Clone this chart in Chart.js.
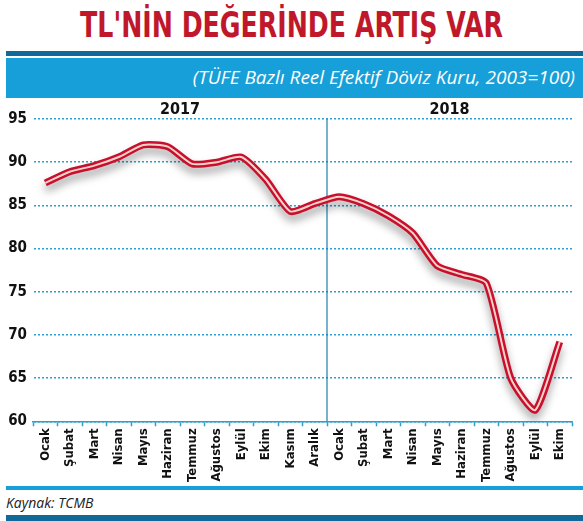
<!DOCTYPE html>
<html>
<head>
<meta charset="utf-8">
<script src="https://cdn.jsdelivr.net/npm/chart.js@4"></script>
<style>
  body { margin: 0; width: 583px; height: 521px; background: #fff; position: relative; overflow: hidden; font-family: 'DejaVu Sans Condensed', sans-serif; }
  #title { position: absolute; top: 4px; left: 0; width: 583px; text-align: center; white-space: nowrap; color: #c0172b; font-weight: bold; font-size: 36px; font-family: 'DejaVu Sans Condensed', sans-serif; transform: scaleX(0.78); transform-origin: 50% 0; }
  #bar1 { position: absolute; top: 51px; left: 6px; width: 577px; height: 5px; background: #0f6a9a; }
  #band { position: absolute; top: 58px; left: 6px; width: 577px; height: 40px; background: #169fd8; }
  #sub { position: absolute; right: 8px; top: 6px; color: #fff; font-style: italic; font-size: 19px; font-family: 'Open Sans', sans-serif; }
  #wrap { position: absolute; top: 98px; left: 0; width: 583px; height: 386px; }
  #bar2 { position: absolute; top: 486px; left: 6px; width: 577px; height: 4px; background: #169fd8; }
  #src { position: absolute; top: 493px; left: 6px; font-style: italic; font-size: 14px; font-family: 'Open Sans', sans-serif; color: #222; }
  #bar3 { position: absolute; top: 515px; left: 6px; width: 577px; height: 6px; background: #0f6a9a; }
</style>
</head>
<body>
<div id="title">TL'NİN DEĞERİNDE ARTIŞ VAR</div>
<div id="bar1"></div>
<div id="band"><div id="sub">(TÜFE Bazlı Reel Efektif Döviz Kuru, 2003=100)</div></div>
<div id="wrap"><canvas id="chart"></canvas></div>
<div id="bar2"></div>
<div id="src">Kaynak: TCMB</div>
<div id="bar3"></div>
<script>
var months = ['Ocak', 'Şubat', 'Mart', 'Nisan', 'Mayıs', 'Haziran', 'Temmuz', 'Ağustos', 'Eylül', 'Ekim', 'Kasım', 'Aralık',
  'Ocak', 'Şubat', 'Mart', 'Nisan', 'Mayıs', 'Haziran', 'Temmuz', 'Ağustos', 'Eylül', 'Ekim'];
var years = ['2017', '2018'];
var yearStart = [0, 12];
var rate = [87.6, 88.9, 89.6, 90.6, 92.0, 91.8, 89.8, 90.0, 90.6, 88.0, 84.3, 85.2,
  86.0, 85.2, 83.8, 81.8, 78.0, 77.0, 76.0, 65.0, 61.3, 69.2];
var yTicks = [60, 65, 70, 75, 80, 85, 90, 95];

var blue = '#2a9fd0';
var fontFam = '"DejaVu Sans Condensed", sans-serif';

var yearPlugin = {
  id: 'years',
  beforeDatasetsDraw: function (chart) {
    var ctx = chart.ctx, x = chart.scales.x, area = chart.chartArea;
    var sep = (x.getPixelForValue(11) + x.getPixelForValue(12)) / 2;
    ctx.save();
    ctx.strokeStyle = '#1b7fae';
    ctx.lineWidth = 1.2;
    ctx.beginPath();
    ctx.moveTo(sep, area.top);
    ctx.lineTo(sep, area.bottom);
    ctx.stroke();
    ctx.fillStyle = '#111';
    ctx.font = 'bold 16px ' + fontFam;
    ctx.textAlign = 'center';
    ctx.textBaseline = 'bottom';
    ctx.fillText(years[0], (x.getPixelForValue(yearStart[0]) + x.getPixelForValue(11)) / 2, area.top - 1);
    ctx.fillText(years[1], (x.getPixelForValue(yearStart[1]) + x.getPixelForValue(rate.length - 1)) / 2, area.top - 1);
    ctx.restore();
  }
};

var shadowPlugin = {
  id: 'shadow',
  beforeDatasetDraw: function (chart, args) {
    if (args.index === 0) {
      chart.ctx.save();
      chart.ctx.shadowColor = 'rgba(0,0,0,0.35)';
      chart.ctx.shadowBlur = 8;
      chart.ctx.shadowOffsetY = 6;
    }
  },
  afterDatasetDraw: function (chart, args) {
    if (args.index === 0) chart.ctx.restore();
  }
};

new Chart(document.getElementById('chart'), {
  type: 'line',
  data: {
    labels: months,
    datasets: [{
      data: rate,
      borderColor: '#c8102e',
      borderWidth: 7,
      tension: 0.2,
      pointRadius: 0,
      order: 2
    }, {
      data: rate,
      borderColor: '#f7d3c8',
      borderWidth: 2,
      tension: 0.2,
      pointRadius: 0,
      order: 1
    }]
  },
  plugins: [yearPlugin, shadowPlugin],
  options: {
    responsive: true,
    maintainAspectRatio: false,
    animation: false,
    layout: { padding: { top: 21, right: 11, left: 0, bottom: 0 } },
    plugins: { legend: { display: false }, tooltip: { enabled: false } },
    scales: {
      x: {
        offset: true,
        grid: { display: true, offset: true, drawOnChartArea: false, color: blue, tickLength: 5, tickWidth: 1.5 },
        border: { display: true, color: blue, dash: [2, 2], width: 1.5 },
        ticks: { color: '#111', autoSkip: false, maxRotation: 90, minRotation: 90, padding: 2,
          font: { family: fontFam, size: 13, weight: 'bold' } }
      },
      y: {
        min: 60,
        max: 95,
        afterBuildTicks: function (axis) { axis.ticks = yTicks.map(function (v) { return { value: v }; }); },
        afterFit: function (axis) { axis.width = 33; },
        grid: { color: blue, lineWidth: 1.5, drawTicks: false },
        border: { display: true, color: 'rgba(0,0,0,0)', dash: [2, 2] },
        ticks: { color: '#111', padding: 6,
          font: { family: fontFam, size: 15, weight: 'bold' } }
      }
    }
  }
});
</script>
</body>
</html>
